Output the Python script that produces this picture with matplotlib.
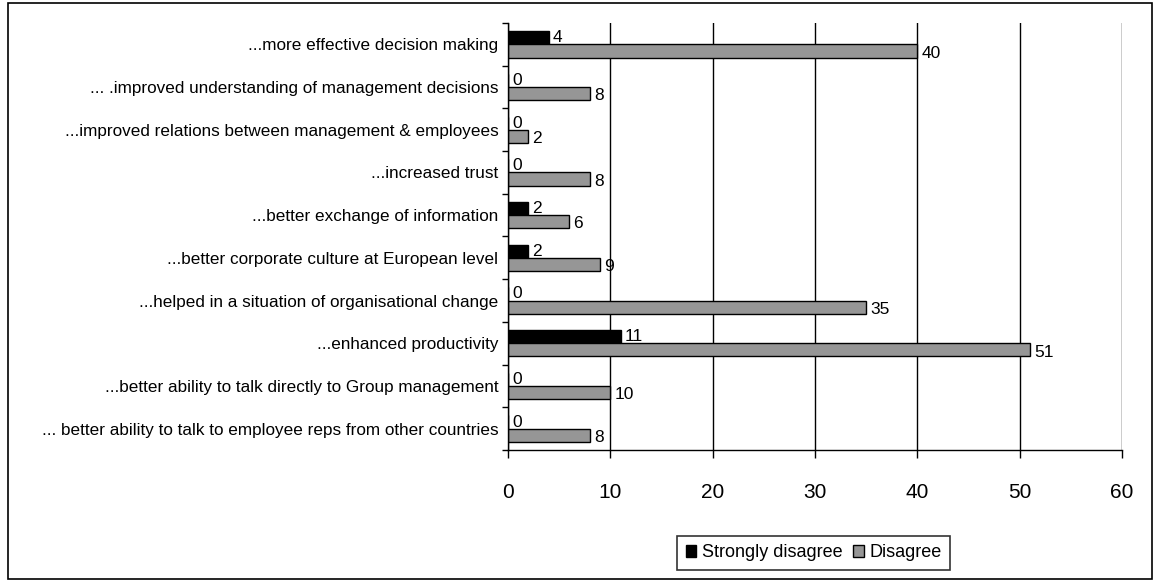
import matplotlib
matplotlib.use("Agg")
import matplotlib.pyplot as plt
import numpy as np
from matplotlib.patches import Rectangle

plt.rcParams['font.family'] = ['Liberation Sans', 'DejaVu Sans']

categories = [
    "...more effective decision making",
    "... .improved understanding of management decisions",
    "...improved relations between management & employees",
    "...increased trust",
    "...better exchange of information",
    "...better corporate culture at European level",
    "...helped in a situation of organisational change",
    "...enhanced productivity",
    "...better ability to talk directly to Group management",
    "... better ability to talk to employee reps from other countries",
]
strongly_disagree = [4, 0, 0, 0, 2, 2, 0, 11, 0, 0]
disagree = [40, 8, 2, 8, 6, 9, 35, 51, 10, 8]
series_names = ["Strongly disagree", "Disagree"]

fig = plt.figure(figsize=(11.59, 5.82), dpi=100)
ax = fig.add_axes([0.4383, 0.2268, 0.5297, 0.7337])

y = np.arange(len(categories))
h = 0.31
ax.barh(y - h / 2, strongly_disagree, height=h, color='black', edgecolor='black',
        linewidth=1, label=series_names[0], zorder=3)
ax.barh(y + h / 2, disagree, height=h, color='#969696', edgecolor='black',
        linewidth=1, label=series_names[1], zorder=3)

# value labels just right of each bar
for i in range(len(categories)):
    ax.text(strongly_disagree[i] + 0.4, y[i] - h / 2, str(strongly_disagree[i]),
            va='center', ha='left', fontsize=12.5)
    ax.text(disagree[i] + 0.4, y[i] + h / 2 + 0.05, str(disagree[i]),
            va='center', ha='left', fontsize=12.5)

ax.set_xlim(0, 60)
ax.set_ylim(len(categories) - 0.5, -0.5)
ax.set_xticks(range(0, 61, 10))
ax.tick_params(axis='x', labelsize=15, length=6, width=1, pad=18)
ax.set_yticks(y)
ax.set_yticklabels(categories, fontsize=12.3)
ax.set_yticks(np.arange(-0.5, len(categories), 1), minor=True)
ax.tick_params(axis='y', which='major', length=0, pad=7)
ax.tick_params(axis='y', which='minor', length=4, width=1)

ax.grid(axis='x', color='black', linewidth=1, zorder=0)
for s in ['top', 'right']:
    ax.spines[s].set_visible(False)
for s in ['left', 'bottom']:
    ax.spines[s].set_linewidth(1)
    ax.spines[s].set_zorder(4)

leg = fig.legend(loc='center', bbox_to_anchor=(0.702, 0.05), ncol=2, fontsize=13,
                 frameon=True, fancybox=False, edgecolor='black', handlelength=0.6,
                 handleheight=0.6, handletextpad=0.3, columnspacing=0.6,
                 borderpad=0.45, borderaxespad=0)
leg.get_frame().set_linewidth(1.2)

# outer frame round the whole chart
fig.patches.append(Rectangle((8 / 1159, 3 / 582), 1144 / 1159, 576 / 582,
                             transform=fig.transFigure, fill=False,
                             edgecolor='black', linewidth=1.2))

fig.savefig('out.png', dpi=100)
